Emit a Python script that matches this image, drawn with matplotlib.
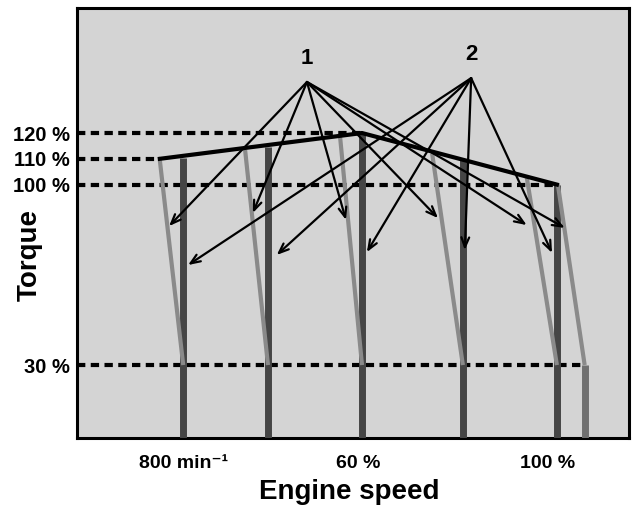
import matplotlib.pyplot as plt

plt.rcParams['font.family'] = ['Liberation Sans', 'DejaVu Sans']
plt.rcParams['font.weight'] = 'bold'

# engine speed in % of rated speed, torque in %
fl_speed = [18.5, 60, 100]
fl_torque = [110, 120, 100]

bar_speed = [23.3, 40.7, 60, 80.7, 100]
bar_top = [110.5, 114.5, 120, 110, 100]

droop_top_speed = [18.5, 36.0, 55.5, 74.4, 93.8, 100.2]
droop_top_torque = [109.5, 113.5, 118.5, 112, 103, 100]
droop_bot_speed = [23.3, 40.7, 60, 80.7, 100, 105.7]
droop_bot_torque = 30

idle_bar_speed = 105.7

ref_levels = [120, 110, 100, 30]
ref_ends = [60, 18.5, 100, 105.7]
ref_labels = ['120 %', '110 %', '100 %', '30 %']

xtick_pos = [23.3, 59.2, 98]
xtick_labels = ['800 min\u207b\u00b9', '60 %', '100 %']

# callouts
label1 = (48.7, 139.8)
label2 = (82.4, 141.3)
arrows1_x = [20.4, 37.6, 56.7, 75.6, 93.8, 101.6]
arrows1_y = [83.9, 89.0, 86.3, 87.0, 84.3, 83.2]
arrows2_x = [24.3, 42.5, 61.0, 81.1, 99.0]
arrows2_y = [68.8, 72.7, 73.8, 74.6, 73.5]

xmin, xmax = 1.5, 114.8
ymin, ymax = 1.7, 168.5

fig = plt.figure(figsize=(6.34, 5.17), dpi=100)
ax = fig.add_axes([77 / 634, 1 - 438 / 517, 552 / 634, 430 / 517])
ax.set_facecolor('#d4d4d4')
ax.set_xlim(xmin, xmax)
ax.set_ylim(ymin, ymax)

# dashed reference levels
for lvl, end in zip(ref_levels, ref_ends):
    ax.plot([xmin, end], [lvl, lvl], color='black', lw=3, dashes=(2, 1.3), zorder=2)

# dark speed bars
for s, top in zip(bar_speed, bar_top):
    ax.plot([s, s], [ymin, top], color='#454545', lw=5, solid_capstyle='butt', zorder=3)

ax.plot([idle_bar_speed, idle_bar_speed], [ymin, droop_bot_torque], color='#707070', lw=5,
        solid_capstyle='butt', zorder=3)

# governor droop lines
for s0, t0, s1 in zip(droop_top_speed, droop_top_torque, droop_bot_speed):
    ax.plot([s0, s1], [t0, droop_bot_torque], color='#8a8a8a', lw=3, solid_capstyle='butt', zorder=3)

# full-load curve
ax.plot(fl_speed, fl_torque, color='black', lw=3, solid_capstyle='projecting', zorder=4)

# callout arrows
astyle = '->,head_length=0.7,head_width=0.28'
for x, y in zip(arrows1_x, arrows1_y):
    ax.annotate('', xy=(x, y), xytext=label1,
                arrowprops=dict(arrowstyle=astyle, lw=1.6, color='black', shrinkA=0, shrinkB=0), zorder=5)
for x, y in zip(arrows2_x, arrows2_y):
    ax.annotate('', xy=(x, y), xytext=label2,
                arrowprops=dict(arrowstyle=astyle, lw=1.6, color='black', shrinkA=0, shrinkB=0), zorder=5)
ax.text(label1[0], label1[1] + 5, '1', ha='center', va='bottom', fontsize=16, fontweight='bold')
ax.text(label2[0], label2[1] + 5, '2', ha='center', va='bottom', fontsize=16, fontweight='bold')

ax.set_yticks(ref_levels)
ax.set_yticklabels(ref_labels, fontsize=14.5, fontweight='bold')
ax.set_xticks(xtick_pos)
ax.set_xticklabels(xtick_labels, fontsize=14, fontweight='bold')
ax.tick_params(axis='both', length=0)
ax.tick_params(axis='y', pad=5)
ax.tick_params(axis='x', pad=12)

for sp in ax.spines.values():
    sp.set_linewidth(2.2)

fig.text(349 / 634, 1 - 492 / 517, 'Engine speed', ha='center', va='center', fontsize=20, fontweight='bold')
fig.text(30 / 634, 1 - 255 / 517, 'Torque', ha='center', va='center', rotation=90, fontsize=20,
         fontweight='bold')

fig.savefig('out.png', dpi=100)
